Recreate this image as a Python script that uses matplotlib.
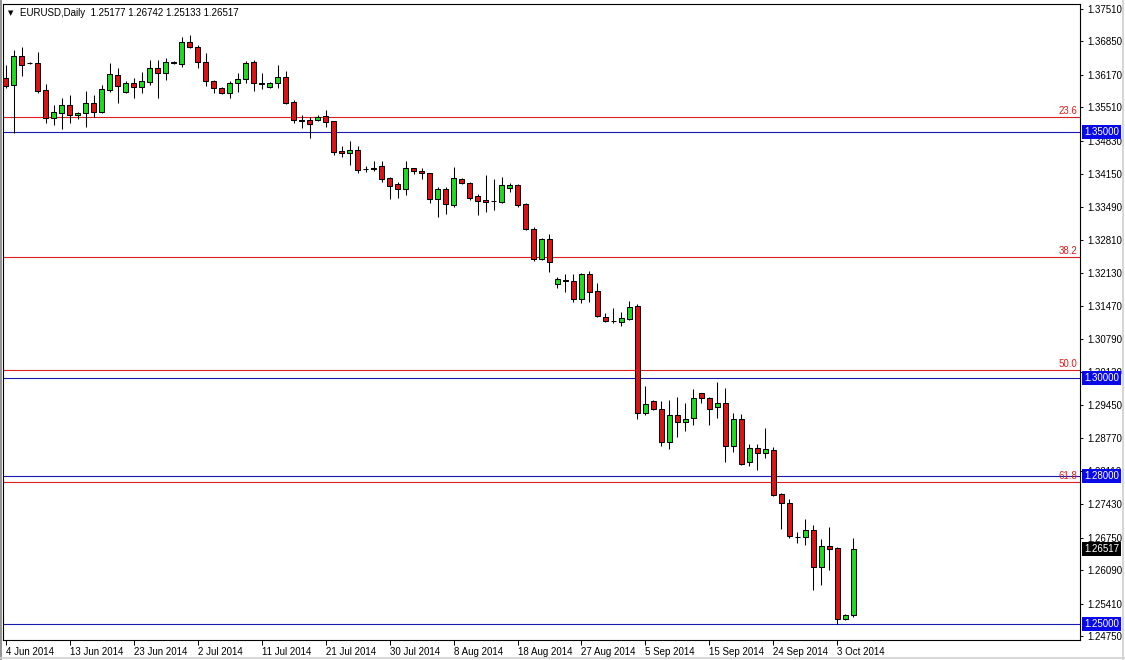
import matplotlib
matplotlib.use("Agg")
import matplotlib.pyplot as plt
from matplotlib.lines import Line2D

plt.rcParams['font.family'] = ['Liberation Sans', 'DejaVu Sans']
plt.rcParams['font.size'] = 7

# ---------------- data (EURUSD daily) ----------------
opens = [1.36106, 1.35963, 1.36553, 1.36411, 1.36411, 1.35862, 1.35292, 1.35394, 1.35556, 1.35353,
         1.35394, 1.35597, 1.35414, 1.35862, 1.36167, 1.35821, 1.36004, 1.35923, 1.36024, 1.36309,
         1.36207, 1.36431, 1.36391, 1.36838, 1.36737, 1.36431, 1.36045, 1.35902, 1.35800, 1.36004,
         1.36085, 1.36431, 1.36004, 1.35923, 1.36004, 1.36126, 1.35617, 1.35251, 1.35251, 1.35251,
         1.35332, 1.35231, 1.34620, 1.34579, 1.34641, 1.34254, 1.34274, 1.34315, 1.34071, 1.33949,
         1.33847, 1.34274, 1.34213, 1.34172, 1.33643, 1.33847, 1.33521, 1.34050, 1.33969, 1.33704,
         1.33623, 1.33603, 1.33582, 1.33867, 1.33928, 1.33542, 1.33033, 1.32422, 1.32829, 1.31914,
         1.31995, 1.31975, 1.31608, 1.32117, 1.31771, 1.31242, 1.31161, 1.31140, 1.31201, 1.31466,
         1.29288, 1.29533, 1.29370, 1.28698, 1.29248, 1.29105, 1.29187, 1.29695, 1.29594, 1.29411,
         1.29492, 1.28617, 1.29166, 1.28291, 1.28576, 1.28474, 1.28535, 1.27640, 1.27457, 1.26765,
         1.26765, 1.26908, 1.26155, 1.26582, 1.26541, 1.25096, 1.25177]
highs = [1.36370, 1.36676, 1.36737, 1.36431, 1.36635, 1.35984, 1.35556, 1.35699, 1.35760, 1.35414,
         1.35841, 1.35760, 1.35963, 1.36411, 1.36309, 1.36045, 1.36106, 1.36228, 1.36472, 1.36472,
         1.36513, 1.36451, 1.36940, 1.36981, 1.36777, 1.36615, 1.36065, 1.35923, 1.36045, 1.36207,
         1.36452, 1.36472, 1.36207, 1.36024, 1.36370, 1.36248, 1.35658, 1.35353, 1.35312, 1.35353,
         1.35455, 1.35241, 1.34722, 1.34824, 1.34722, 1.34315, 1.34417, 1.34417, 1.34091, 1.33989,
         1.34417, 1.34284, 1.34274, 1.34182, 1.33888, 1.33888, 1.34295, 1.34071, 1.33989, 1.33745,
         1.34132, 1.34050, 1.34091, 1.33969, 1.33949, 1.33562, 1.33074, 1.32850, 1.32931, 1.32056,
         1.32117, 1.32117, 1.32137, 1.32178, 1.31934, 1.31323, 1.31425, 1.31344, 1.31568, 1.31507,
         1.29838, 1.29553, 1.29533, 1.29553, 1.29614, 1.29492, 1.29777, 1.29705, 1.29614, 1.29919,
         1.29797, 1.29288, 1.29268, 1.28657, 1.28657, 1.28983, 1.28596, 1.27660, 1.27538, 1.26867,
         1.27131, 1.27009, 1.26724, 1.26969, 1.26562, 1.25198, 1.26742]
lows = [1.35902, 1.34986, 1.36146, 1.36391, 1.35800, 1.35190, 1.35149, 1.35068, 1.35190, 1.35272,
        1.35109, 1.35312, 1.35394, 1.35821, 1.35597, 1.35800, 1.35699, 1.35800, 1.35963, 1.35699,
        1.36065, 1.36401, 1.36330, 1.36716, 1.36309, 1.35943, 1.35800, 1.35780, 1.35699, 1.35821,
        1.36004, 1.35841, 1.35882, 1.35902, 1.35902, 1.35577, 1.35190, 1.35088, 1.34885, 1.35231,
        1.35109, 1.34539, 1.34498, 1.34335, 1.34172, 1.34193, 1.34213, 1.33989, 1.33643, 1.33664,
        1.33725, 1.34152, 1.34050, 1.33562, 1.33277, 1.33338, 1.33481, 1.33949, 1.33623, 1.33318,
        1.33379, 1.33420, 1.33562, 1.33786, 1.33481, 1.33013, 1.32382, 1.32402, 1.32158, 1.31832,
        1.31751, 1.31547, 1.31527, 1.31547, 1.31242, 1.31140, 1.31120, 1.31059, 1.31181, 1.29166,
        1.29248, 1.29350, 1.28617, 1.28556, 1.28800, 1.28922, 1.29044, 1.29492, 1.29044, 1.29187,
        1.28291, 1.28495, 1.28230, 1.28210, 1.28128, 1.28373, 1.27599, 1.26928, 1.26745, 1.26643,
        1.26602, 1.25687, 1.25788, 1.26094, 1.25000, 1.25076, 1.25133]
closes = [1.35943, 1.36553, 1.36370, 1.36405, 1.35841, 1.35292, 1.35414, 1.35556, 1.35353, 1.35394,
          1.35597, 1.35414, 1.35882, 1.36187, 1.35943, 1.36004, 1.35923, 1.36045, 1.36309, 1.36207,
          1.36431, 1.36421, 1.36838, 1.36737, 1.36431, 1.36045, 1.35902, 1.35800, 1.36004, 1.36085,
          1.36411, 1.36004, 1.35994, 1.36004, 1.36126, 1.35597, 1.35251, 1.35241, 1.35170, 1.35312,
          1.35210, 1.34600, 1.34579, 1.34641, 1.34234, 1.34244, 1.34264, 1.34050, 1.33908, 1.33847,
          1.34274, 1.34213, 1.34172, 1.33643, 1.33847, 1.33542, 1.34071, 1.33969, 1.33664, 1.33603,
          1.33582, 1.33598, 1.33928, 1.33928, 1.33521, 1.33033, 1.32422, 1.32829, 1.32361, 1.32015,
          1.31985, 1.31608, 1.32117, 1.31751, 1.31262, 1.31161, 1.31151, 1.31222, 1.31446, 1.29288,
          1.29472, 1.29370, 1.28698, 1.29248, 1.29105, 1.29166, 1.29594, 1.29594, 1.29370, 1.29492,
          1.28617, 1.29166, 1.28251, 1.28576, 1.28474, 1.28556, 1.27620, 1.27457, 1.26785, 1.26755,
          1.26908, 1.26155, 1.26582, 1.26521, 1.25096, 1.25178, 1.26517]

date_labels = ["4 Jun 2014", "13 Jun 2014", "23 Jun 2014", "2 Jul 2014", "11 Jul 2014",
               "21 Jul 2014", "30 Jul 2014", "8 Aug 2014", "18 Aug 2014", "27 Aug 2014",
               "5 Sep 2014", "15 Sep 2014", "24 Sep 2014", "3 Oct 2014"]
date_label_bars = [0, 8, 16, 24, 32, 40, 48, 56, 64, 72, 80, 88, 96, 104]

price_ticks = [1.37510, 1.36850, 1.36170, 1.35510, 1.34830, 1.34150, 1.33490, 1.32810,
               1.32130, 1.31470, 1.30790, 1.30130, 1.29450, 1.28770, 1.28110, 1.27430,
               1.26750, 1.26090, 1.25410, 1.24750]

fib_levels = [1.35312, 1.32463, 1.30164, 1.27884]
fib_labels = ["23.6", "38.2", "50.0", "61.8"]
hlines = [1.35000, 1.30000, 1.28000, 1.25000]
hline_labels = ["1.35000", "1.30000", "1.28000", "1.25000"]
last_price = 1.26517
title = "EURUSD,Daily  1.25177 1.26742 1.25133 1.26517"

# ---------------- styling ----------------
BULL = '#1EDC1E'
BEAR = '#DC1414'
FIB = '#E01E1E'
HLINE = '#1A1AB0'
HBOX = '#0A0AE6'

W, H = 1125, 660
fig = plt.figure(figsize=(W / 100, H / 100), dpi=100)
fig.patch.set_facecolor('white')
ax_left, ax_right, ax_top, ax_bot = 3, 1080, 4, 640
ax = fig.add_axes([ax_left / W, 1 - ax_bot / H, (ax_right - ax_left) / W, (ax_bot - ax_top) / H])
ax.set_facecolor('white')

n = len(opens)
xs = list(range(n))

# wicks
ax.vlines(xs, lows, highs, colors='black', linewidth=0.75, zorder=3)
# bodies
body_w = 0.62
for i in xs:
    o, c = opens[i], closes[i]
    bottom = min(o, c)
    height = max(abs(c - o), 0.00002)
    col = BULL if c > o else BEAR
    ax.bar(i, height, bottom=bottom, width=body_w, color=col,
           edgecolor='black', linewidth=0.75, zorder=4)

# fib lines
for lv, lab in zip(fib_levels, fib_labels):
    ax.axhline(lv, color=FIB, linewidth=0.8, zorder=2)
    ax.annotate(lab, xy=(1, lv), xycoords=('axes fraction', 'data'),
                xytext=(-2, 0.5), textcoords='offset points', ha='right', va='bottom',
                color=FIB, fontsize=7, zorder=5)

# horizontal blue lines
for lv in hlines:
    ax.axhline(lv, color=HLINE, linewidth=0.8, zorder=2)

ax.set_xlim(-0.35, 134.35)
ax.set_ylim(1.24669, 1.37612)

# right price axis
ax.yaxis.tick_right()
ax.set_yticks(price_ticks)
ax.set_yticklabels([f"{p:.5f}" for p in price_ticks])
ax.tick_params(axis='y', direction='out', length=2.5, width=0.7, pad=2.5,
               labelsize=7, colors='black')

# bottom date axis
ax.set_xticks(date_label_bars)
ax.set_xticklabels(date_labels)
for t in ax.get_xticklabels():
    t.set_horizontalalignment('left')
ax.tick_params(axis='x', direction='out', length=3.5, width=0.7, pad=1.5, labelsize=7)

for s in ax.spines.values():
    s.set_color('black')
    s.set_linewidth(0.8)

# price boxes on right axis
for lv, lab in zip(hlines, hline_labels):
    ax.annotate(lab, xy=(1, lv), xycoords=('axes fraction', 'data'),
                xytext=(3.0, 0), textcoords='offset points', ha='left', va='center',
                color='white', fontsize=7, zorder=10, annotation_clip=False,
                bbox=dict(boxstyle='square,pad=0.2', fc=HBOX, ec='none'))
ax.annotate(f"{last_price:.5f}", xy=(1, last_price), xycoords=('axes fraction', 'data'),
            xytext=(3.0, 0), textcoords='offset points', ha='left', va='center',
            color='white', fontsize=7, zorder=10, annotation_clip=False,
            bbox=dict(boxstyle='square,pad=0.2', fc='black', ec='none'))

# title
fig.text(8 / W, 1 - 13 / H, "\u25BC", fontsize=5, va='center', ha='left',
         family=['DejaVu Sans'], color='black')
fig.text(20 / W, 1 - 13 / H, title, fontsize=7, va='center', ha='left', color='black')

# outer frame
fig.add_artist(Line2D([0.5 / W, 0.5 / W], [0, 1], transform=fig.transFigure, color='#808080', lw=1.2))
fig.add_artist(Line2D([1 - 2 / W, 1 - 2 / W], [0, 1], transform=fig.transFigure, color='#d0d0d0', lw=1.2))
fig.add_artist(Line2D([0, 1], [2 / H, 2 / H], transform=fig.transFigure, color='#d0d0d0', lw=1.2))

fig.savefig('out.png', dpi=100, facecolor='white')
